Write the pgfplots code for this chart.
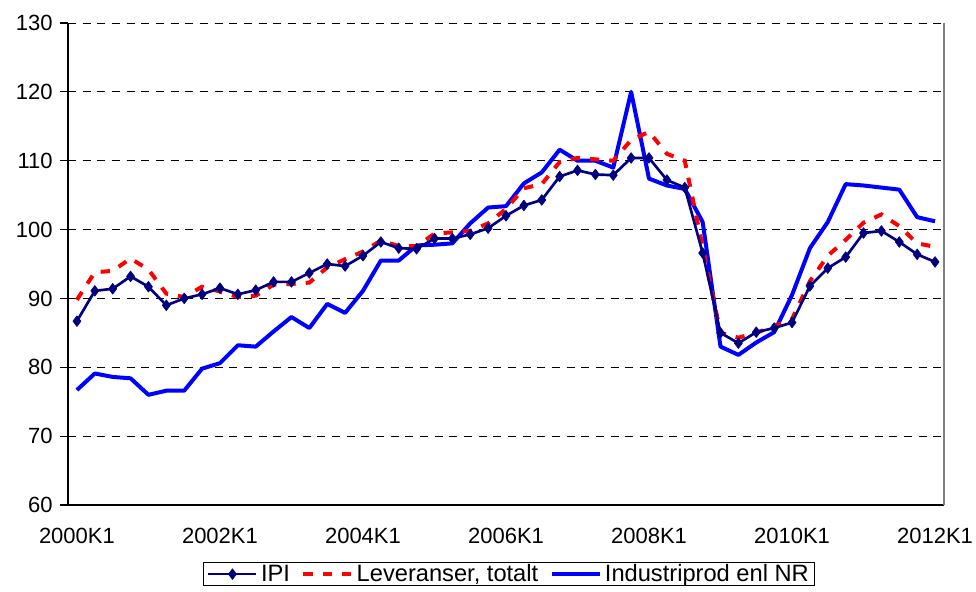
\documentclass[border=0pt]{standalone}
\usepackage{pgfplots}
\pgfplotsset{compat=1.18}
\usepackage{fontspec}
\setmainfont{Liberation Sans}
\definecolor{ipinavy}{RGB}{0,0,128}
\definecolor{levred}{RGB}{255,0,0}
\definecolor{indblue}{RGB}{0,0,255}
\begin{document}
\begin{tikzpicture}
\path[use as bounding box] (-51pt,-65.25pt) rectangle (681pt,378.75pt);
\begin{axis}[
  at={(0pt,0pt)}, anchor=south west,
  scale only axis, width=657pt, height=361.5pt,
  xmin=-0.5, xmax=48.5, ymin=60, ymax=130,
  axis lines*=left,
  axis line style={black, line width=0.8pt},
  tick align=outside,
  ytick={60,70,...,130},
  xtick={0,8,...,48},
  xticklabels={2000K1,2002K1,2004K1,2006K1,2008K1,2010K1,2012K1},
  minor xtick={-0.5,3.5,...,47.5},
  major tick length=6pt, minor tick length=6pt,
  x axis line style={-}, y axis line style={-},
  xtick style={draw=none},
  minor tick style={black, line width=0.8pt},
  ytick style={black, line width=0.8pt},
  ymajorgrids,
  major grid style={black, line width=0.7pt, dash pattern=on 6pt off 5pt},
  /pgf/number format/assume math mode=true,
  tick label style={font=\fontsize{16.5pt}{19pt}\selectfont},
  xticklabel style={yshift=-8pt},
  yticklabel style={xshift=-2pt},
  clip=false,
  reverse legend,
  legend columns=-1,
  legend style={at={(0.5034,-0.1183)}, anchor=north, draw=black, line width=0.8pt,
    font=\fontsize{17.75pt}{20pt}\selectfont, inner xsep=2.5pt, inner ysep=0.5pt,
    nodes={inner xsep=1.5pt, inner ysep=1pt},
    /tikz/every odd column/.append style={column sep=1pt},
    /tikz/every even column/.append style={column sep=7pt}},
  legend image code/.code={\draw[mark repeat=2,mark phase=2,#1] plot coordinates {(0pt,0pt) (18pt,0pt) (36pt,0pt)};},
]
\addplot[indblue, line width=3pt, line join=round, mark=none] coordinates {
(0,76.7) (1,79.1) (2,78.6) (3,78.4) (4,76.0) (5,76.6) (6,76.6) (7,79.8) (8,80.6) (9,83.2)
(10,83.0) (11,85.2) (12,87.3) (13,85.7) (14,89.2) (15,87.9) (16,91.1) (17,95.5) (18,95.5) (19,97.7)
(20,97.8) (21,98.0) (22,100.9) (23,103.2) (24,103.4) (25,106.7) (26,108.3) (27,111.6) (28,110.0) (29,110.0)
(30,109.0) (31,120.0) (32,107.4) (33,106.4) (34,105.9) (35,101.1) (36,83.0) (37,81.8) (38,83.6) (39,85.1)
(40,90.5) (41,97.3) (42,101.1) (43,106.6) (44,106.4) (45,106.1) (46,105.8) (47,101.8) (48,101.2)
};
\addlegendentry{Industriprod enl NR}
\addplot[levred, line width=3pt, dash pattern=on 7pt off 7.5pt, mark=none] coordinates {
(0,89.8) (1,93.8) (2,94.0) (3,95.8) (4,94.2) (5,90.7) (6,90.2) (7,91.7) (8,91.0) (9,90.2)
(10,90.4) (11,92.0) (12,92.1) (13,92.3) (14,94.5) (15,95.7) (16,96.8) (17,98.4) (18,97.6) (19,97.6)
(20,99.4) (21,99.6) (22,99.8) (23,100.9) (24,103.0) (25,106.0) (26,106.6) (27,109.8) (28,110.4) (29,110.2)
(30,110.0) (31,113.0) (32,114.2) (33,111.0) (34,110.0) (35,97.5) (36,85.0) (37,84.3) (38,85.0) (39,86.0)
(40,87.0) (41,92.5) (42,96.2) (43,98.5) (44,101.0) (45,102.2) (46,100.5) (47,98.0) (48,97.5)
};
\addlegendentry{Leveranser, totalt}
\addplot[ipinavy, line width=2pt, line join=round, mark=diamond*, mark size=4pt,
  mark options={solid, fill=ipinavy, line width=0.5pt}] coordinates {
(0,86.7) (1,91.1) (2,91.4) (3,93.2) (4,91.7) (5,89.0) (6,90.0) (7,90.6) (8,91.5) (9,90.6)
(10,91.2) (11,92.4) (12,92.4) (13,93.7) (14,95.0) (15,94.7) (16,96.2) (17,98.2) (18,97.3) (19,97.2)
(20,98.7) (21,98.7) (22,99.3) (23,100.2) (24,102.0) (25,103.5) (26,104.3) (27,107.7) (28,108.6) (29,108.0)
(30,107.9) (31,110.4) (32,110.4) (33,107.2) (34,106.1) (35,96.6) (36,85.0) (37,83.5) (38,85.1) (39,85.7)
(40,86.5) (41,91.8) (42,94.4) (43,96.0) (44,99.5) (45,99.8) (46,98.2) (47,96.4) (48,95.3)
};
\addlegendentry{IPI}
\draw[gray, line width=0.8pt] (axis cs:48.5,60) -- (axis cs:48.5,130);
\end{axis}
\end{tikzpicture}
\end{document}
